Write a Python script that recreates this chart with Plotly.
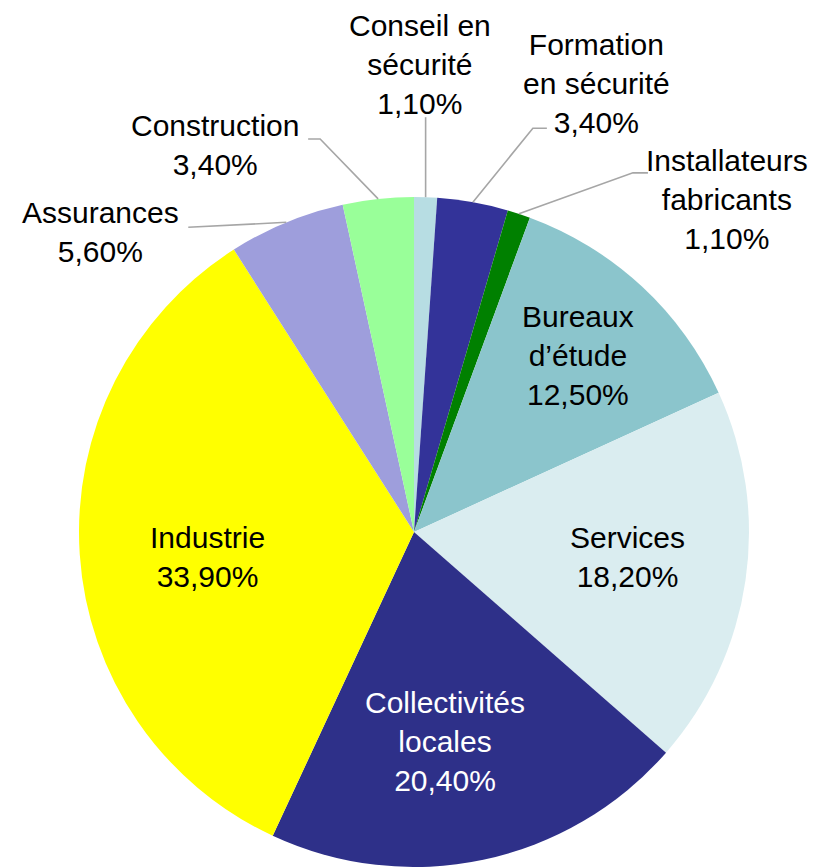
import math
import plotly.graph_objects as go

# ---- data ----
categories = ["Conseil en<br>sécurité", "Formation<br>en sécurité", "Installateurs<br>fabricants",
              "Bureaux<br>d’étude", "Services", "Collectivités<br>locales", "Industrie",
              "Assurances", "Construction"]
values = [1.1, 3.4, 1.1, 12.5, 18.2, 20.4, 33.9, 5.6, 3.4]
colors = ["#b7dde3", "#333399", "#008000", "#8bc5cc", "#daedf0", "#2e3089", "#ffff00",
          "#9e9edc", "#99ff99"]

# ---- layout geometry ----
W, H = 826, 867
CX, R = 414, 335            # pixel centre x and radius
CY = H - R                  # pixel centre y (from top)
FONT = dict(size=30, family="Liberation Sans, Arial")

# label placement: ('in', radius fraction, angle tweak deg, font colour) or ('out', dx, dy)
placement = [
    ("out", -6, -133),
    ("out", 124, -119),
    ("out", 208, -14),
    ("in", 0.72, 0.0, "black"),
    ("in", 0.642, -1.6, "black"),
    ("in", 0.633, 3.5, "white"),
    ("in", 0.62, -3.1, "black"),
    ("out", -186, 10),
    ("out", -163, -54),
]
# leader-line elbows relative to edge point (pixels)
elbows = {
    0: [(0, -80)],
    1: [(60, -74), (74, -74)],
    2: [(114, -41), (129, -41)],
    7: [(-98, 5)],
    8: [(-58, -60), (-70, -60)],
}

total = sum(values)

def px_to_paper(x, y):
    return x / W, 1 - y / H

fig = go.Figure(go.Pie(
    values=values,
    labels=[c.replace("<br>", " ") for c in categories],
    marker=dict(colors=colors, line=dict(width=0)),
    sort=False, direction="clockwise", rotation=0,
    textinfo="none", hoverinfo="skip", showlegend=False,
    domain=dict(x=[(CX - R) / W, (CX + R) / W], y=[0, 2 * R / H]),
))

annotations = []
shapes = []
cum = 0.0
for i, (cat, v) in enumerate(zip(categories, values)):
    mid = (cum + v / 2) / total * 2 * math.pi
    cum += v
    text = f"{cat}<br>{v:.2f}".replace(".", ",") + "%"
    p = placement[i]
    if p[0] == "in":
        a = mid + math.radians(p[2])
        tx, ty = CX + p[1] * R * math.sin(a), CY - p[1] * R * math.cos(a)
        xp, yp = px_to_paper(tx, ty)
        annotations.append(dict(x=xp, y=yp, xref="paper", yref="paper", text=text,
                                showarrow=False, xanchor="center", yanchor="middle",
                                font=dict(color=p[3], **FONT)))
    else:
        ex, ey = CX + R * math.sin(mid), CY - R * math.cos(mid)
        tx, ty = ex + p[1], ey + p[2]
        xp, yp = px_to_paper(tx, ty)
        annotations.append(dict(x=xp, y=yp, xref="paper", yref="paper", text=text,
                                showarrow=False, xanchor="center", yanchor="middle",
                                font=dict(color="black", **FONT)))
        pts = [(ex, ey)] + [(ex + dx, ey + dy) for dx, dy in elbows[i]]
        path = ""
        for k, (a, b) in enumerate(pts):
            pa, pb = px_to_paper(a, b)
            path += ("M" if k == 0 else "L") + f"{pa:.5f},{pb:.5f} "
        shapes.append(dict(type="path", path=path.strip(), xref="paper", yref="paper",
                           line=dict(color="#a6a6a6", width=1.6)))

fig.update_layout(
    width=W, height=H,
    margin=dict(l=0, r=0, t=0, b=0),
    paper_bgcolor="white", plot_bgcolor="white",
    annotations=annotations, shapes=shapes,
)

fig.write_html("out.html", config={"displayModeBar": False},
               post_script="document.body.style.margin='0';")
